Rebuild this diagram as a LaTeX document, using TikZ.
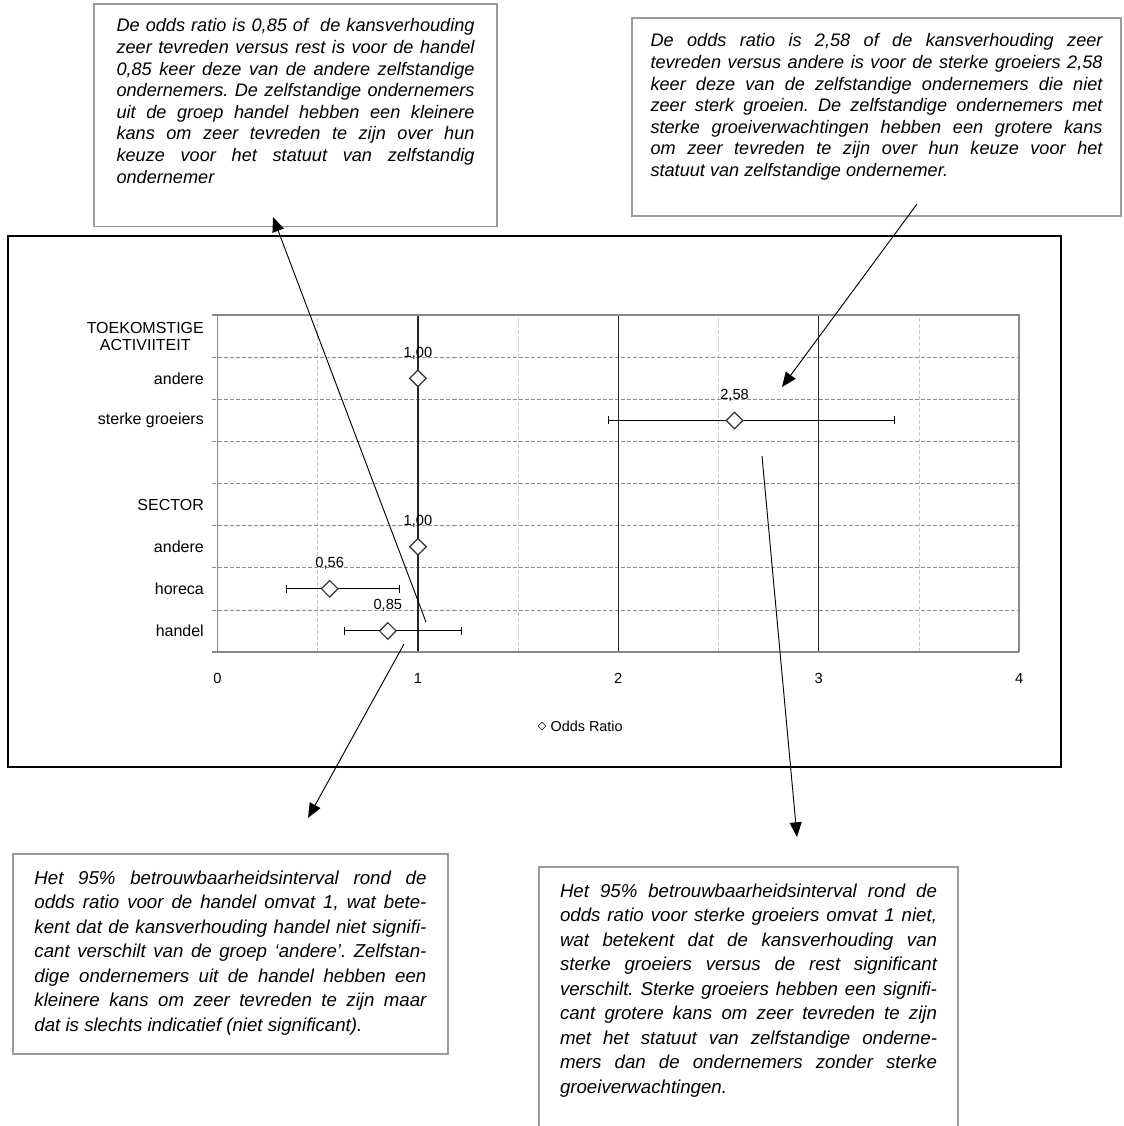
\documentclass[tikz,border=0pt]{standalone}
\usepackage{fontspec}
\setmainfont{Liberation Sans}
\usetikzlibrary{arrows.meta,positioning,shapes.geometric}

\definecolor{boxgray}{RGB}{155,155,155}
\definecolor{axisgray}{RGB}{136,136,136}
\definecolor{gridgray}{RGB}{140,140,140}
\definecolor{halfgray}{RGB}{200,200,200}

\frenchspacing
\pretolerance=10000
\hbadness=10000

\begin{document}
\begin{tikzpicture}[x=0.75pt,y=-0.75pt,>={Triangle[length=11pt,width=9pt]},
	note/.style={draw=boxgray,line width=1.1pt,anchor=north west,outer sep=0pt,inner ysep=0pt,
			align=justify,font=\itshape\fontsize{13.6}{16.2}\selectfont},
	lownote/.style={note,font=\itshape\fontsize{14}{18.4}\selectfont},
	ratio/.style={diamond,draw=black!80,fill=white,line width=0.9pt,inner sep=0pt,minimum size=12.75pt},
	cat/.style={anchor=east,inner sep=0pt,align=center,font=\fontsize{12}{12.75}\selectfont},
	val/.style={inner sep=0pt,font=\fontsize{11}{12}\selectfont},
	cibar/.style={{Bar[width=6pt]}-{Bar[width=6pt]},line width=0.8pt},
	pointer/.style={->,line width=0.7pt}
	]

	\useasboundingbox (0,0) rectangle (1123,1126);

	% notes
	\node[note,text width=268.5pt,inner xsep=16.9pt,text height=21pt,text depth=146pt] (noteHandel) at (94,4)
	{De odds ratio is 0,85 of\ \ de kansverhouding\linebreak
		zeer tevreden versus rest is voor de handel\linebreak
		0,85 keer deze van de andere zelfstandige\linebreak
		ondernemers. De zelfstandige ondernemers\linebreak
		uit de groep handel hebben een kleinere\linebreak
		kans om zeer tevreden te zijn over hun\linebreak
		keuze voor het statuut van zelfstandig\linebreak
		ondernemer};

	\node[note,text width=339pt,inner xsep=13.9pt,text height=21.75pt,text depth=126.75pt] (noteSterk) at (632,18)
	{De odds ratio is 2,58 of de kansverhouding zeer\linebreak
		tevreden versus andere is voor de sterke groeiers 2,58\linebreak
		keer deze van de zelfstandige ondernemers die niet\linebreak
		zeer sterk groeien. De zelfstandige ondernemers met\linebreak
		sterke groeiverwachtingen hebben een grotere kans\linebreak
		om zeer tevreden te zijn over hun keuze voor het\linebreak
		statuut van zelfstandige ondernemer.};

	\node[lownote,text width=294pt,inner xsep=16.1pt,text height=22.5pt,text depth=127.5pt] (noteCiHandel) at (13,854)
	{Het 95\% betrouwbaarheidsinterval rond de\linebreak
		odds ratio voor de handel omvat 1, wat bete-\linebreak
		kent dat de kansverhouding handel niet signifi-\linebreak
		cant verschilt van de groep ‘andere’. Zelfstan-\linebreak
		dige ondernemers uit de handel hebben een\linebreak
		kleinere kans om zeer tevreden te zijn maar\linebreak
		dat is slechts indicatief (niet significant).};

	\node[lownote,text width=282.75pt,inner xsep=15.75pt,text height=22.5pt,text depth=177pt] (noteCiSterk) at (539,867)
	{Het 95\% betrouwbaarheidsinterval rond de\linebreak
		odds ratio voor sterke groeiers omvat 1 niet,\linebreak
		wat betekent dat de kansverhouding van\linebreak
		sterke groeiers versus de rest significant\linebreak
		verschilt. Sterke groeiers hebben een signifi-\linebreak
		cant grotere kans om zeer tevreden te zijn\linebreak
		met het statuut van zelfstandige onderne-\linebreak
		mers dan de ondernemers zonder sterke\linebreak
		groeiverwachtingen.};

	% chart
	\draw[line width=0.9pt] (8,236) rectangle (1061,767);

	\begin{scope}[shift={(217.5,652)},x=150.3pt,y=31.575pt]
		\foreach \x in {0.5,1.5,2.5,3.5}
			\draw[halfgray,dash pattern=on 3pt off 1.5pt,line width=0.6pt] (\x,0) -- (\x,8);
		\foreach \y in {1,...,7}
			\draw[gridgray,dash pattern=on 3pt off 1.5pt,line width=0.6pt] (-0.025,\y) -- (4,\y);
		\foreach \x in {1,2,3}
			\draw[black!85,line width=1pt] (\x,0) -- (\x,8);
		\draw[axisgray,line width=1.1pt] (-0.025,8) -- (4,8) -- (4,0);
		\draw[axisgray,line width=1.1pt] (0,8) -- (0,0) (-0.025,0) -- (4,0);

		\foreach \x in {0,...,4}
			\node[val] (tick\x) at (\x,-0.62) {\x};

		\node[cat] (catToek) at (-0.067,7.5) {TOEKOMSTIGE\\ACTIVIITEIT};
		\node[cat] (catAndereT) at (-0.067,6.5) {andere};
		\node[cat] (catSterk) at (-0.067,5.5) {sterke groeiers};
		\node[cat] (catSector) at (-0.067,3.5) {SECTOR};
		\node[cat] (catAndereS) at (-0.067,2.5) {andere};
		\node[cat] (catHoreca) at (-0.067,1.5) {horeca};
		\node[cat] (catHandel) at (-0.067,0.5) {handel};

		\foreach \lo/\hi/\y in {1.95/3.38/5.5, 0.34/0.91/1.5, 0.63/1.22/0.5}
			\draw[cibar] (\lo,\y) -- (\hi,\y);

		\foreach \name/\odds/\y/\lab in {andereT/1/6.5/{1,00}, sterk/2.58/5.5/{2,58}, andereS/1/2.5/{1,00}, horeca/0.56/1.5/{0,56}, handel/0.85/0.5/{0,85}} {
				\node[ratio] (or\name) at (\odds,\y) {};
				\node[val] (val\name) at (\odds,\y+0.6) {\lab};
			}
	\end{scope}

	% legend
	\node[ratio,minimum size=6pt,line width=0.6pt] (legendMark) at (542,726) {};
	\node[right=3pt of legendMark,inner sep=0pt,font=\fontsize{10.8}{12}\selectfont] (legendText) {Odds Ratio};

	% pointers
	\coordinate (fromHandel) at (426,622);
	\coordinate (toNoteHandel) at (273,217);
	\coordinate (fromNoteSterk) at (917,204);
	\coordinate (toSterk) at (782,387);
	\coordinate (fromCiHandel) at (404,644);
	\coordinate (toNoteCiHandel) at (308,818);
	\coordinate (fromCiSterk) at (762,456);
	\coordinate (toNoteCiSterk) at (797,837);

	\draw[pointer] (fromHandel) -- (toNoteHandel);
	\draw[pointer] (fromNoteSterk) -- (toSterk);
	\draw[pointer] (fromCiHandel) -- (toNoteCiHandel);
	\draw[pointer] (fromCiSterk) -- (toNoteCiSterk);

\end{tikzpicture}
\end{document}
